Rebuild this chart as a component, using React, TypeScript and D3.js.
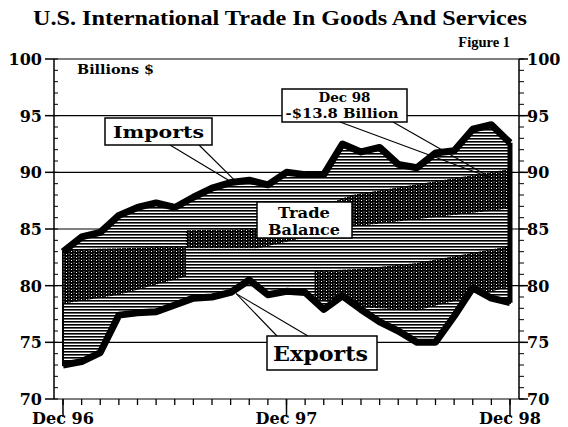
import React from "react";
import * as d3 from "d3";

const W = 568;
const H = 427;

// Monthly index 0 = Dec 96 ... 24 = Dec 98
const monthIdx = d3.range(25);
const importsVals = [83.0, 84.3, 84.7, 86.2, 86.9, 87.3, 86.9, 87.8, 88.6, 89.1, 89.3, 88.9, 90.0, 89.8, 89.8, 92.5, 91.8, 92.2, 90.7, 90.4, 91.7, 91.9, 93.8, 94.2, 92.6];
const exportsVals = [73.0, 73.3, 74.1, 77.4, 77.6, 77.7, 78.3, 78.9, 79.0, 79.4, 80.5, 79.2, 79.5, 79.4, 77.9, 79.1, 77.9, 76.8, 76.0, 75.0, 75.0, 77.3, 79.8, 78.9, 78.5];
const yTicks = [70, 75, 80, 85, 90, 95, 100];
const xMajor = [0, 12, 24];
const xLabels = ["Dec 96", "Dec 97", "Dec 98"];

// scan moire dark bands inside the trade-balance area
const bandAIdx = [0, 3, 6.6];
const bandATop = [83.2, 83.3, 83.5];
const bandABot = [78.4, 79.2, 80.8];
const bandBIdx = [6.6, 10.5, 15.5, 24];
const bandBTop = [84.9, 85.0, 88.0, 90.3];
const bandBBot = [83.3, 83.3, 85.2, 86.8];
const bandCIdx = [13.5, 16, 19, 24];
const bandCTop = [81.3, 81.5, 82.0, 83.5];
const bandCBot = [78.8, 78.1, 77.8, 79.9];

export default function App() {
  const x = d3.scaleLinear().domain([0, 24]).range([63, 510]);
  const y = d3.scaleLinear().domain([70, 100]).range([399, 59]);
  const left = 54;
  const right = 519;

  const data = monthIdx.map((i) => ({ i, im: importsVals[i], ex: exportsVals[i] }));
  const area = d3
    .area<any>()
    .x((d) => x(d.i))
    .y0((d) => y(d.ex))
    .y1((d) => y(d.im));
  const lineIm = d3.line<any>().x((d) => x(d.i)).y((d) => y(d.im));
  const lineEx = d3.line<any>().x((d) => x(d.i)).y((d) => y(d.ex));

  const band = (idx: number[], top: number[], bot: number[]) =>
    d3
      .area<number>()
      .x((i) => x(idx[i]))
      .y0((i) => y(bot[i]))
      .y1((i) => y(top[i]))(d3.range(idx.length)) as string;

  const serif = "'Liberation Serif', 'Times New Roman', serif";
  const slab = "'DejaVu Serif', serif";
  const minorY = d3.range(70, 101, 1);

  return (
    <svg
      width={W}
      height={H}
      style={{ position: "absolute", left: 0, top: 0, background: "#fff" }}
      xmlns="http://www.w3.org/2000/svg"
    >
      <defs>
        <pattern id="hatch" patternUnits="userSpaceOnUse" width={6} height={3}>
          <rect x={0} y={0} width={6} height={3} fill="#fff" />
          <rect x={0} y={0} width={6} height={1.6} fill="#000" />
        </pattern>
        <pattern id="speck" patternUnits="userSpaceOnUse" width={5} height={3}>
          <rect x={0} y={0} width={5} height={3} fill="#000" />
          <rect x={1} y={2} width={1} height={1} fill="#fff" />
          <rect x={3.5} y={1.5} width={1} height={0.8} fill="#fff" />
        </pattern>
        <clipPath id="areaClip">
          <path d={area(data) as string} />
        </clipPath>
      </defs>
      <rect x={0} y={0} width={W} height={H} fill="#fff" />

      {/* Title */}
      <text x={280} y={25} textAnchor="middle" fontFamily={serif} fontWeight="bold" fontSize={22} textLength={494} lengthAdjust="spacingAndGlyphs">
        U.S. International Trade In Goods And Services
      </text>
      <text x={510} y={47} textAnchor="end" fontFamily={serif} fontWeight="bold" fontSize={14.5}>
        Figure 1
      </text>

      {/* Gridlines */}
      {yTicks.map((t) => (
        <line key={"g" + t} x1={left} x2={right} y1={y(t)} y2={y(t)} stroke="#000" strokeWidth={1.2} />
      ))}

      {/* Axes */}
      <line x1={left} x2={left} y1={y(100)} y2={y(70)} stroke="#000" strokeWidth={1.5} />
      <line x1={right} x2={right} y1={y(100)} y2={y(70)} stroke="#000" strokeWidth={1.5} />
      {minorY.map((t) => (
        <g key={"m" + t}>
          <line x1={left} x2={left + 4} y1={y(t)} y2={y(t)} stroke="#000" strokeWidth={1} />
          <line x1={right} x2={right + 5} y1={y(t)} y2={y(t)} stroke="#000" strokeWidth={1} />
        </g>
      ))}
      {yTicks.map((t) => (
        <g key={"t" + t}>
          <line x1={left - 9} x2={left} y1={y(t)} y2={y(t)} stroke="#000" strokeWidth={1.5} />
          <line x1={right} x2={right + 9} y1={y(t)} y2={y(t)} stroke="#000" strokeWidth={1.5} />
          <text x={42} y={y(t) + 6} textAnchor="end" fontFamily={slab} fontWeight="bold" fontSize={16}>
            {t}
          </text>
          <text x={527} y={y(t) + 6} textAnchor="start" fontFamily={slab} fontWeight="bold" fontSize={16}>
            {t}
          </text>
        </g>
      ))}
      {monthIdx.map((i) => (
        <line key={"xm" + i} x1={x(i)} x2={x(i)} y1={y(70)} y2={y(70) + 6} stroke="#000" strokeWidth={1.3} />
      ))}
      {xMajor.map((i, k) => (
        <g key={"xM" + i}>
          <line x1={x(i)} x2={x(i)} y1={y(70)} y2={y(70) + 18} stroke="#000" strokeWidth={1.5} />
          <text x={x(i)} y={424} textAnchor="middle" fontFamily={slab} fontWeight="bold" fontSize={16} textLength={62} lengthAdjust="spacingAndGlyphs">
            {xLabels[k]}
          </text>
        </g>
      ))}

      <text x={77} y={74} fontFamily={slab} fontWeight="bold" fontSize={12.5} textLength={77} lengthAdjust="spacingAndGlyphs">
        Billions $
      </text>

      {/* Trade balance area */}
      <path d={area(data) as string} fill="url(#hatch)" stroke="#000" strokeWidth={2} />
      <g clipPath="url(#areaClip)" fill="url(#speck)">
        <path d={band(bandAIdx, bandATop, bandABot)} />
        <path d={band(bandBIdx, bandBTop, bandBBot)} />
        <path d={band(bandCIdx, bandCTop, bandCBot)} />
      </g>
      <line x1={x(24)} x2={x(24)} y1={y(importsVals[24])} y2={y(exportsVals[24])} stroke="#000" strokeWidth={5} />
      <path d={lineIm(data) as string} fill="none" stroke="#000" strokeWidth={7} strokeLinejoin="round" />
      <path d={lineEx(data) as string} fill="none" stroke="#000" strokeWidth={7} strokeLinejoin="round" />

      {/* Leader lines */}
      <g stroke="#000" strokeWidth={1.1}>
        <line x1={170} y1={145} x2={x(9.2)} y2={y(89.0)} />
        <line x1={199} y1={145} x2={x(9.4)} y2={y(89.0)} />
        <line x1={340} y1={122} x2={x(23)} y2={y(89.5)} />
        <line x1={393} y1={122} x2={x(23)} y2={y(89.5)} />
        <line x1={277} y1={336} x2={x(9.3)} y2={y(79.3)} />
        <line x1={308} y1={336} x2={x(9.3)} y2={y(79.3)} />
      </g>

      {/* Imports label */}
      <rect x={105} y={118} width={107} height={27} fill="#fff" stroke="#000" strokeWidth={1.5} />
      <text x={158.5} y={138} textAnchor="middle" fontFamily={slab} fontWeight="bold" fontSize={17} textLength={91} lengthAdjust="spacingAndGlyphs">
        Imports
      </text>

      {/* Dec 98 label */}
      <rect x={282} y={89} width={125} height={33} fill="#fff" stroke="#000" strokeWidth={1.5} />
      <text x={344.5} y={102} textAnchor="middle" fontFamily={slab} fontWeight="bold" fontSize={12.5} textLength={52} lengthAdjust="spacingAndGlyphs">
        Dec 98
      </text>
      <text x={342} y={118} textAnchor="middle" fontFamily={slab} fontWeight="bold" fontSize={13} textLength={113} lengthAdjust="spacingAndGlyphs">
        -$13.8 Billion
      </text>

      {/* Trade Balance label */}
      <rect x={257} y={202} width={95} height={36} fill="#fff" stroke="#000" strokeWidth={1.5} />
      <text x={304} y={218} textAnchor="middle" fontFamily={slab} fontWeight="bold" fontSize={14} textLength={52} lengthAdjust="spacingAndGlyphs">
        Trade
      </text>
      <text x={304} y={235} textAnchor="middle" fontFamily={slab} fontWeight="bold" fontSize={14} textLength={72} lengthAdjust="spacingAndGlyphs">
        Balance
      </text>

      {/* Exports label */}
      <rect x={267} y={336} width={110} height={34} fill="#fff" stroke="#000" strokeWidth={1.5} />
      <text x={320.5} y={361} textAnchor="middle" fontFamily={slab} fontWeight="bold" fontSize={21} textLength={95} lengthAdjust="spacingAndGlyphs">
        Exports
      </text>
    </svg>
  );
}
